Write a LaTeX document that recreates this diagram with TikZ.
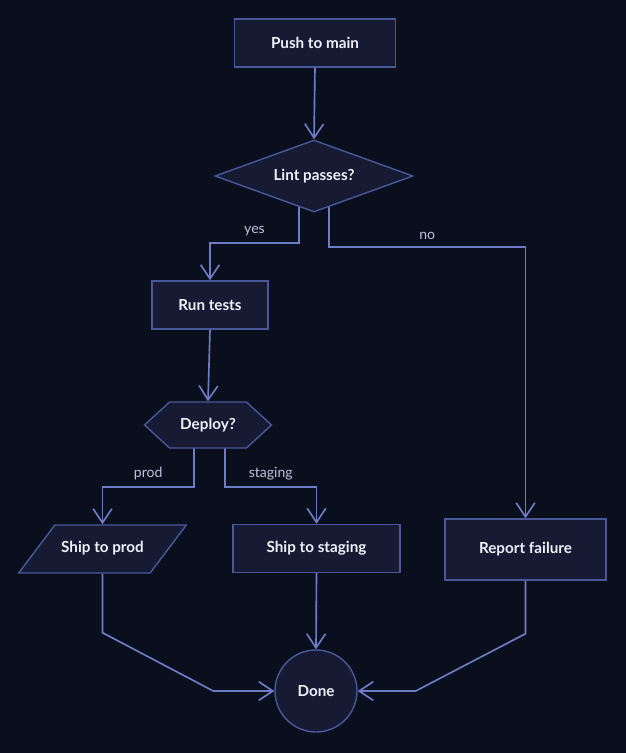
\documentclass[tikz,border=0pt]{standalone}
\usepackage{xcolor}
\usepackage{tikz}
\usepackage{fontspec}
\setmainfont{Lato}
\usetikzlibrary{arrows.meta, positioning, shapes.geometric, shapes.symbols, calc, backgrounds}
\definecolor{pagebg}{HTML}{0A0F1E}
\definecolor{nodefill}{HTML}{161B33}
\definecolor{nodeedge}{HTML}{4A5899}
\definecolor{flowline}{HTML}{6E7DC6}
\definecolor{nodetext}{HTML}{EEF0FA}
\definecolor{lbltext}{HTML}{BCC2DA}

\begin{document}
\begin{tikzpicture}[
    x=0.03cm, y=-0.03cm,
    base/.style={draw=nodeedge, fill=nodefill, line width=1.2pt, text=nodetext,
                 font=\fontsize{13}{15}\selectfont\bfseries, inner sep=0pt},
    procbox/.style={base, rectangle, minimum width=#1, minimum height=1.44cm},
    decision/.style={base, diamond, aspect=2.75, minimum width=5.94cm, minimum height=2.16cm},
    choice/.style={base, signal, signal to=west and east, signal pointer angle=85,
                   minimum width=3.81cm, minimum height=1.38cm},
    iobox/.style={base, trapezium, trapezium left angle=53, trapezium right angle=127,
                  text height=0.33cm, text depth=0.1cm, inner xsep=0.19cm, inner ysep=0.505cm},
    endnode/.style={base, circle, minimum size=2.46cm},
    flow/.style={draw=flowline, line width=1.4pt, -{Straight Barb[length=12pt, width=16pt]}},
    lbl/.style={text=lbltext, font=\fontsize{12}{14}\selectfont, inner sep=5.5pt},
]
    \useasboundingbox (0,0) rectangle (626,753);
    % nodes
    \node[procbox=4.83cm] (push) at (315,43) {Push to main};
    \node[decision] (lint) at (314,176) {Lint passes?};
    \node[procbox=3.48cm] (run) at (210,305) {Run tests};
    \node[choice] (deploy) at (208,425) {Deploy?};
    \node[iobox] (prod) at (102.5,549) {Ship to prod};
    \node[procbox=5.01cm] (staging) at (316.5,548.5) {Ship to staging};
    \node[procbox=4.83cm, minimum height=1.83cm] (report) at (525.5,549.5) {Report failure};
    \node[endnode] (done) at (316,691) {Done};

    \begin{scope}[on background layer]
        \fill[pagebg] (0,0) rectangle (626,753);
        % connectors
        \draw[flow] (push.south) -- (lint.north);
        \draw[flow] ($(lint.center)+(-15,0)$) -- ++(0,67)
            -| node[lbl, pos=0.25, above] {yes} (run.north);
        \draw[flow] ($(lint.center)+(15,0)$) -- ++(0,71)
            -| node[lbl, pos=0.25, above] {no} (report.north);
        \draw[flow] (run.south) -- (deploy.north);
        \draw[flow] ($(deploy.center)+(-14,0)$) -- ++(0,62)
            -| node[lbl, pos=0.25, above] {prod} (prod.north);
        \draw[flow] ($(deploy.center)+(17,0)$) -- ++(0,62)
            -| node[lbl, pos=0.25, above] {staging} (staging.north);
        \draw[flow] (prod.south) -- ++(0,59) -- ($(done.west)+(-61,0)$) -- (done.west);
        \draw[flow] (staging.south) -- (done.north);
        \draw[flow] (report.south) -- ++(0,53) -- ($(done.east)+(58,0)$) -- (done.east);
    \end{scope}
\end{tikzpicture}
\end{document}
